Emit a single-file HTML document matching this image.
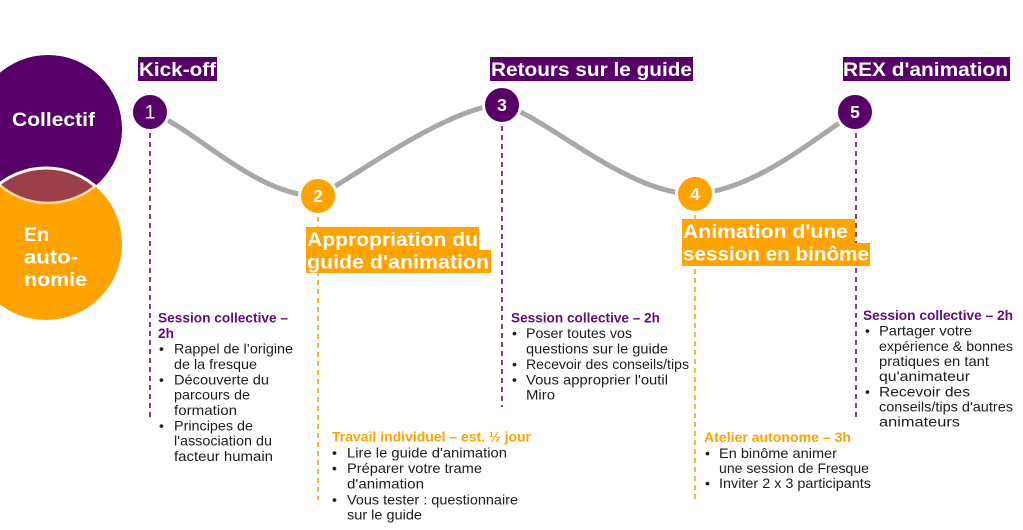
<!DOCTYPE html>
<html><head><meta charset="utf-8"><style>
html,body{margin:0;padding:0;background:#fff;}
svg{display:block;}
text{font-family:"Liberation Sans",sans-serif;}
.b{font-size:14px;fill:#1d1d1d;}
.hp{font-size:13.5px;font-weight:bold;fill:#640c78;}
.ho{font-size:13.5px;font-weight:bold;fill:#FFA300;}
.t{font-size:19px;font-weight:bold;fill:#fff;}
</style></head><body>
<svg width="1023" height="530" viewBox="0 0 1023 530" xmlns="http://www.w3.org/2000/svg">
<defs>
<clipPath id="cp"><circle cx="48" cy="129" r="74"/></clipPath>
<clipPath id="co"><circle cx="46" cy="244" r="76"/></clipPath>
</defs>
<rect width="1023" height="530" fill="#fff"/>
<!-- venn -->
<circle cx="48" cy="129" r="74" fill="#560068"/>
<circle cx="46" cy="244" r="76" fill="#FFA300"/>
<g clip-path="url(#co)"><circle cx="48" cy="129" r="74" fill="#9b4049" stroke="#ffd9a0" stroke-width="2.5"/></g>
<g clip-path="url(#cp)"><circle cx="46" cy="244" r="76" fill="none" stroke="#fff" stroke-width="3"/></g>
<text class="t" style="font-size:19.5px" x="12" y="126" textLength="83" lengthAdjust="spacingAndGlyphs">Collectif</text>
<text class="t" style="font-size:19.5px" x="24" y="241" textLength="25" lengthAdjust="spacingAndGlyphs">En</text>
<text class="t" style="font-size:19.5px" x="24" y="263.5" textLength="54" lengthAdjust="spacingAndGlyphs">auto-</text>
<text class="t" style="font-size:19.5px" x="24" y="286" textLength="63" lengthAdjust="spacingAndGlyphs">nomie</text>

<!-- dashed lines -->
<g stroke-width="1.6" stroke-dasharray="5 4" fill="none">
<line x1="150" y1="133" x2="150" y2="420" stroke="#640c78"/>
<line x1="318" y1="217" x2="318" y2="500" stroke="#FFA300"/>
<line x1="502" y1="126" x2="502" y2="407" stroke="#640c78"/>
<line x1="695" y1="215" x2="695" y2="499" stroke="#FFA300"/>
<line x1="856" y1="133" x2="856" y2="421" stroke="#640c78"/>
</g>

<!-- curve -->
<path d="M150,112 C195,128 255,196 318,196 M318,196 C350,180 450,105 502,105 M502,105 C545,115 625,194 695,194 M695,194 C750,190 800,150 855,112" fill="none" stroke="#a8a8a8" stroke-width="5" stroke-linecap="round"/>

<!-- number circles -->
<g stroke="#fff" stroke-width="3">
<circle cx="150" cy="112" r="18.5" fill="#560068"/>
<circle cx="318" cy="196" r="18.5" fill="#FFA300"/>
<circle cx="502" cy="105" r="18.5" fill="#560068"/>
<circle cx="695" cy="194" r="18.5" fill="#FFA300"/>
<circle cx="855" cy="112" r="18.5" fill="#560068"/>
</g>
<g fill="#fff" text-anchor="middle">
<text x="150" y="118.5" style="font-size:19px;font-weight:normal">1</text>
<text x="318" y="202" style="font-size:17.5px;font-weight:bold">2</text>
<text x="502" y="111" style="font-size:17.5px;font-weight:bold">3</text>
<text x="695" y="200" style="font-size:17.5px;font-weight:bold">4</text>
<text x="855" y="118" style="font-size:17.5px;font-weight:bold">5</text>
</g>

<!-- title boxes -->
<rect x="138" y="57" width="79" height="24" fill="#560068"/>
<text class="t" x="139" y="76" textLength="77" lengthAdjust="spacingAndGlyphs">Kick-off</text>
<rect x="490" y="57" width="203" height="24" fill="#560068"/>
<text class="t" x="491" y="76" textLength="201" lengthAdjust="spacingAndGlyphs">Retours sur le guide</text>
<rect x="843" y="57" width="167" height="24" fill="#560068"/>
<text class="t" x="843" y="76" textLength="165" lengthAdjust="spacingAndGlyphs">REX d'animation</text>

<rect x="306" y="227" width="173" height="24" fill="#FFA300"/>
<rect x="306" y="250" width="185" height="23" fill="#FFA300"/>
<text class="t" x="307" y="246" textLength="171" lengthAdjust="spacingAndGlyphs">Appropriation du</text>
<text class="t" x="307" y="268.5" textLength="182" lengthAdjust="spacingAndGlyphs">guide d'animation</text>

<rect x="682" y="219" width="173" height="25" fill="#FFA300"/>
<rect x="682" y="243" width="188" height="23" fill="#FFA300"/>
<text class="t" x="683" y="237.8" textLength="165" lengthAdjust="spacingAndGlyphs">Animation d'une</text>
<text class="t" x="683" y="260.3" textLength="186" lengthAdjust="spacingAndGlyphs">session en binôme</text>

<!-- block 1 -->
<text class="hp" x="158" y="322.5" textLength="130" lengthAdjust="spacingAndGlyphs">Session collective –</text>
<text class="hp" x="158" y="338" textLength="16" lengthAdjust="spacingAndGlyphs">2h</text>
<text class="b" x="159" y="353.7">•</text>
<text class="b" x="174" y="353.7" textLength="119" lengthAdjust="spacingAndGlyphs">Rappel de l’origine</text>
<text class="b" x="174" y="368.9" textLength="83" lengthAdjust="spacingAndGlyphs">de la fresque</text>
<text class="b" x="159" y="384.5">•</text>
<text class="b" x="174" y="384.5" textLength="95" lengthAdjust="spacingAndGlyphs">Découverte du</text>
<text class="b" x="174" y="399.7" textLength="76" lengthAdjust="spacingAndGlyphs">parcours de</text>
<text class="b" x="174" y="414.9" textLength="63" lengthAdjust="spacingAndGlyphs">formation</text>
<text class="b" x="159" y="430.5">•</text>
<text class="b" x="174" y="430.5" textLength="79" lengthAdjust="spacingAndGlyphs">Principes de</text>
<text class="b" x="174" y="445.7" textLength="98" lengthAdjust="spacingAndGlyphs">l'association du</text>
<text class="b" x="174" y="461.2" textLength="99" lengthAdjust="spacingAndGlyphs">facteur humain</text>

<!-- block 2 -->
<text class="ho" x="332" y="441.7" textLength="199" lengthAdjust="spacingAndGlyphs">Travail individuel – est. ½ jour</text>
<text class="b" x="332" y="457.7">•</text>
<text class="b" x="347" y="457.7" textLength="160" lengthAdjust="spacingAndGlyphs">Lire le guide d'animation</text>
<text class="b" x="332" y="472.9">•</text>
<text class="b" x="347" y="472.9" textLength="135" lengthAdjust="spacingAndGlyphs">Préparer votre trame</text>
<text class="b" x="347" y="488.5" textLength="77" lengthAdjust="spacingAndGlyphs">d'animation</text>
<text class="b" x="332" y="504.5">•</text>
<text class="b" x="347" y="504.5" textLength="171" lengthAdjust="spacingAndGlyphs">Vous tester : questionnaire</text>
<text class="b" x="347" y="519.5" textLength="75" lengthAdjust="spacingAndGlyphs">sur le guide</text>

<!-- block 3 -->
<text class="hp" x="511" y="322.3" textLength="149" lengthAdjust="spacingAndGlyphs">Session collective – 2h</text>
<text class="b" x="512" y="338">•</text>
<text class="b" x="526" y="338" textLength="106" lengthAdjust="spacingAndGlyphs">Poser toutes vos</text>
<text class="b" x="526" y="353.3" textLength="142" lengthAdjust="spacingAndGlyphs">questions sur le guide</text>
<text class="b" x="512" y="369">•</text>
<text class="b" x="526" y="369" textLength="163" lengthAdjust="spacingAndGlyphs">Recevoir des conseils/tips</text>
<text class="b" x="512" y="384.3">•</text>
<text class="b" x="526" y="384.3" textLength="142" lengthAdjust="spacingAndGlyphs">Vous approprier l'outil</text>
<text class="b" x="526" y="399.7" textLength="29" lengthAdjust="spacingAndGlyphs">Miro</text>

<!-- block 4 -->
<text class="ho" x="704" y="442" textLength="147" lengthAdjust="spacingAndGlyphs">Atelier autonome – 3h</text>
<text class="b" x="705" y="458">•</text>
<text class="b" x="719" y="458" textLength="118" lengthAdjust="spacingAndGlyphs">En binôme animer</text>
<text class="b" x="719" y="473" textLength="150" lengthAdjust="spacingAndGlyphs">une session de Fresque</text>
<text class="b" x="705" y="488">•</text>
<text class="b" x="719" y="488" textLength="152" lengthAdjust="spacingAndGlyphs">Inviter 2 x 3 participants</text>

<!-- block 5 -->
<text class="hp" x="863" y="320" textLength="150" lengthAdjust="spacingAndGlyphs">Session collective – 2h</text>
<text class="b" x="865" y="335.7">•</text>
<text class="b" x="879" y="335.7" textLength="93" lengthAdjust="spacingAndGlyphs">Partager votre</text>
<text class="b" x="879" y="351" textLength="134" lengthAdjust="spacingAndGlyphs">expérience &amp; bonnes</text>
<text class="b" x="879" y="366" textLength="110" lengthAdjust="spacingAndGlyphs">pratiques en tant</text>
<text class="b" x="879" y="381" textLength="91" lengthAdjust="spacingAndGlyphs">qu'animateur</text>
<text class="b" x="865" y="396.7">•</text>
<text class="b" x="879" y="396.7" textLength="91" lengthAdjust="spacingAndGlyphs">Recevoir des</text>
<text class="b" x="879" y="411.7" textLength="134" lengthAdjust="spacingAndGlyphs">conseils/tips d'autres</text>
<text class="b" x="879" y="426.7" textLength="81" lengthAdjust="spacingAndGlyphs">animateurs</text>
</svg>
</body></html>
